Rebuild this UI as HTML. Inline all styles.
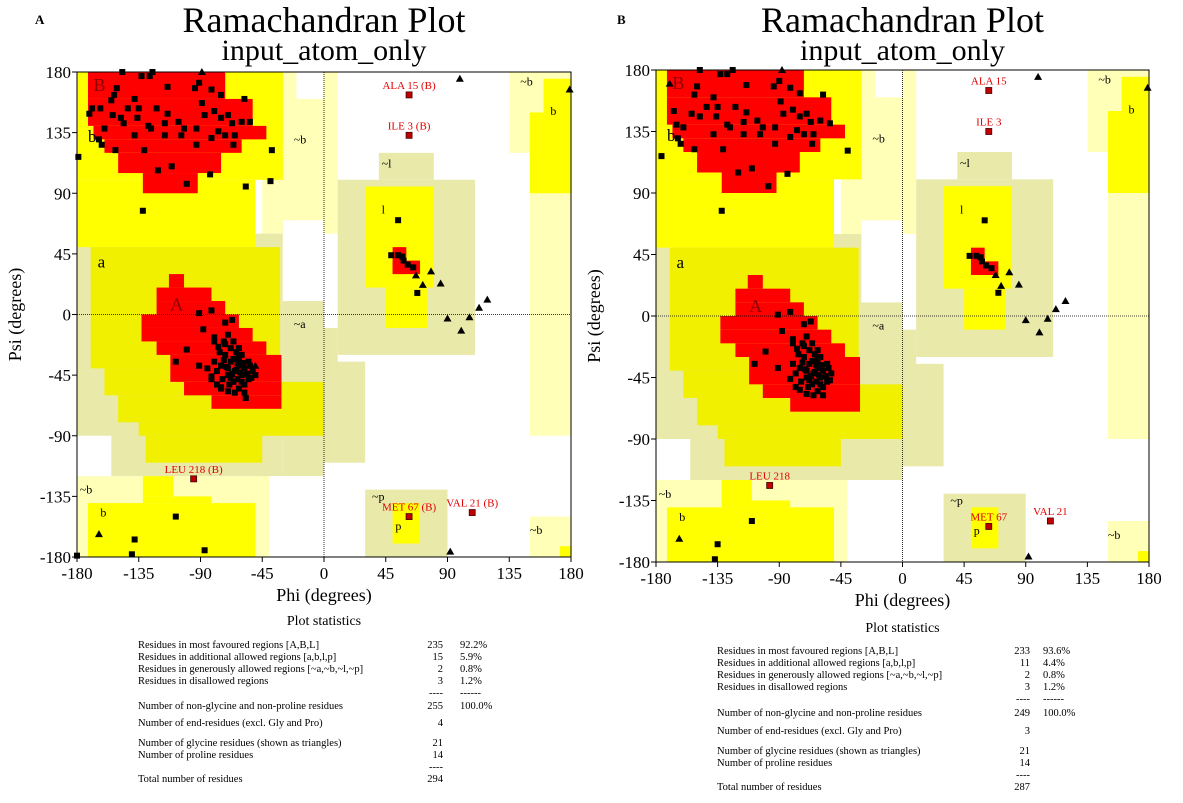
<!DOCTYPE html>
<html><head><meta charset="utf-8">
<style>
html,body{margin:0;padding:0;background:#fff;}
body{width:1183px;height:803px;overflow:hidden;position:relative;font-family:"Liberation Serif",serif;}
svg{position:absolute;left:0;top:0;}
</style></head>
<body>
<svg id="chart" width="1183" height="803" viewBox="0 0 1183 803"></svg>
<script>
// ---- data ----
const ticks = [-180,-135,-90,-45,0,45,90,135,180];
// regions [phi1,phi2,psi1,psi2]
const regionsPale = [[-180,-10,100,180],[-45,10,60,180],[-180,-40,-180,-120],[-45,-40,-180,-120],[135,180,120,180],[150,180,-90,120],[150,180,-180,-150]];
const regionsKhaki = [[-180,-30,-120,60],[-30,0,-120,10],[0,30,-110,-35],[0,10,-60,-10],[10,110,-30,100],[40,80,100,120],[20,110,-30,-30],[30,90,-180,-130],[-30,-20,50,70]];
const regionsWhite = [[-180,-155,-120,-90],[-30,0,10,70],[-40,0,-180,-120],[-20,0,160,180],[120,135,120,180]];
const regionsYellow = [[-180,-30,100,180],[-180,-50,50,100],[-132,-110,-135,-120],[-132,-82,-140,-135],[-172,-50,-180,-140],[30,80,20,95],[45,75,-10,20],[160,180,90,175],[150,160,90,150],[50,70,-170,-140],[172,180,-180,-172]];
const regionsAlpha = [[-170,-32,-40,50],[-160,-32,-60,-40],[-150,-10,-80,-60],[-135,0,-90,-80],[-130,-45,-110,-90],[-32,0,-80,-50]];
const regionsRed = [[-172,-72,160,180],[-172,-52,140,160],[-168,-42,130,140],[-160,-60,120,130],[-150,-75,105,120],[-132,-92,90,105],
 [-113,-102,20,30],[-122,-82,10,20],[-122,-72,0,10],[-133,-62,-10,0],[-133,-52,-20,-10],[-122,-42,-30,-20],[-112,-31,-50,-30],[-102,-31,-60,-50],[-82,-31,-70,-60],
 [50,60,30,50],[50,70,30,40]];
const regionLabels = [["B",-168,166,18,"#800"],["A",-112,3,18,"#800"],["b",-172,128,17,"#000"],["a",-165,35,17,"#000"],["~b",-22,127,12,"#000"],["~a",-22,-10,12,"#000"],["~l",42,109,12,"#000"],["l",42,75,12,"#000"],["~b",143,170,12,"#000"],["b",165,148,12,"#000"],["~b",-178,-133,12,"#000"],["b",-163,-150,12,"#000"],["~p",35,-138,12,"#000"],["p",52,-160,12,"#000"],["~b",150,-163,12,"#000"]];

const squaresA = [[-147,180],[-125,180],[-133,177],[-127,177],[-151,168],[-153,163],[-163,153],[-155,159],[-148,146],[-146,142],[-136,146],[-128,140],[-138,133],[-131,122],[-121,107],[-111,110],[-100,97],[-83,104],[-114,169],[-94,168],[-91,172],[-82,167],[-75,163],[-89,157],[-80,151],[-75,146],[-70,148],[-67,142],[-60,143],[-54,143],[-65,133],[-66,126],[-72,133],[-82,131],[-93,126],[-93,138],[-102,138],[-104,133],[-116,133],[-122,153],[-116,142],[-126,138],[-162,126],[-152,122],[-154,148],[-160,138],[-143,153],[-138,160],[-135,153],[-114,149],[-106,143],[-87,148],[-77,136],[-169,153],[-171,149],[-164,130],[-38,122],[-39,99],[-57,95],[-58,160],[-132,77],[-179,117],
 [-91,1],[-82,3],[-67,-4],[-72,-6],[-88,-11],[-100,-26],[-108,-35],[-91,-38],[-80,-17],[-73,-20],[-53,-47],[-82,-46],[-78,-52],[-75,-54],
 [-70,-40],[-65,-42],[-62,-38],[-60,-45],[-68,-35],[-72,-30],[-58,-40],[-63,-48],[-66,-50],[-70,-45],[-75,-38],[-55,-35],[-60,-30],[-64,-28],[-68,-25],[-72,-22],[-62,-55],[-58,-52],[-55,-48],[-52,-42],[-74,-48],[-78,-42],[-80,-35],[-76,-28],[-66,-33],[-61,-43],[-69,-52],[-65,-58],[-70,-57],[-58,-58],[-63,-36],[-67,-44],[-59,-36],[-71,-39],[-64,-41],[-56,-44],[-73,-34],[-62,-32],[-68,-47],[-60,-50],[-77,-24],[-80,-20],[-70,-15],[-66,-20],[-62,-25],[-54,-38],[-50,-45],[-57,-62],[-75,-55],[-82,-48],[-85,-40],
 [54,70],[68,16],[49,44],[54,44],[57,43],[58,40],[61,37],[65,35],
 [-180,-179],[-140,-178],[-138,-167],[-108,-150],[-87,-175]];
const trianglesA = [[99,175],[179,167],[67,29],[78,32],[72,22],[85,23],[119,11],[113,5],[90,-3],[106,-2],[100,-12],[-164,-163],[92,-176],[-50,-38],[-89,180]];
const labelledA = [["ALA 15 (B)",62,163],["ILE 3 (B)",62,133],["LEU 218 (B)",-95,-122],["MET 67 (B)",62,-150],["VAL 21 (B)",108,-147]];

const squaresB = [[-148,180],[-124,180],[-133,177],[-128,177],[-150,168],[-152,162],[-148,146],[-136,146],[-128,140],[-138,133],[-131,122],[-120,105],[-110,108],[-98,95],[-84,104],[-114,169],[-94,168],[-90,172],[-82,167],[-75,163],[-89,157],[-80,151],[-75,146],[-70,148],[-67,142],[-60,143],[-53,141],[-65,133],[-66,126],[-72,133],[-82,131],[-93,126],[-93,138],[-102,138],[-104,133],[-116,133],[-122,153],[-116,142],[-126,138],[-162,126],[-152,122],[-154,148],[-160,138],[-143,153],[-138,160],[-135,153],[-114,149],[-106,143],[-87,148],[-77,136],[-165,140],[-167,150],[-164,130],[-40,121],[-58,162],[-132,77],[-176,117],
 [-91,1],[-82,3],[-67,-4],[-72,-6],[-88,-11],[-100,-26],[-108,-35],[-91,-38],[-80,-17],[-73,-20],[-53,-47],[-82,-46],[-78,-52],[-75,-54],
 [-70,-40],[-65,-42],[-62,-38],[-60,-45],[-68,-35],[-72,-30],[-58,-40],[-63,-48],[-66,-50],[-70,-45],[-75,-38],[-55,-35],[-60,-30],[-64,-28],[-68,-25],[-72,-22],[-62,-55],[-58,-52],[-55,-48],[-52,-42],[-74,-48],[-78,-42],[-80,-35],[-76,-28],[-66,-33],[-61,-43],[-69,-52],[-65,-58],[-70,-57],[-58,-58],[-63,-36],[-67,-44],[-59,-36],[-71,-39],[-64,-41],[-56,-44],[-73,-34],[-62,-32],[-68,-47],[-60,-50],[-77,-24],[-80,-20],[-70,-15],[-66,-20],[-62,-25],[-54,-38],
 [60,70],[70,17],[49,44],[54,44],[57,43],[58,40],[61,37],[65,35],
 [-135,-167],[-110,-150],[-137,-178]];
const trianglesB = [[99,175],[179,167],[68,30],[78,32],[72,22],[85,23],[119,11],[112,5],[90,-3],[106,-2],[100,-12],[-163,-163],[92,-176],[-88,180],[-170,170]];
const labelledB = [["ALA 15",63,165],["ILE 3",63,135],["LEU 218",-97,-124],["MET 67",63,-154],["VAL 21",108,-150]];

const statLabels = ["Residues in most favoured regions  [A,B,L]","Residues in additional allowed regions  [a,b,l,p]","Residues in generously allowed regions  [~a,~b,~l,~p]","Residues in disallowed regions","Number of non-glycine and non-proline residues","Number of end-residues (excl. Gly and Pro)","Number of glycine residues (shown as triangles)","Number of proline residues","Total number of residues"];
const statCountsA = ["235","15","2","3","255","4","21","14","294"];
const statPctA = ["92.2%","5.9%","0.8%","1.2%","100.0%","","","",""];
const statCountsB = ["233","11","2","3","249","3","21","14","287"];
const statPctB = ["93.6%","4.4%","0.8%","1.2%","100.0%","","","",""];

// ---- drawing ----
const NS="http://www.w3.org/2000/svg";
const svg=document.getElementById('chart');
function mk(tag,attrs,parent){const e=document.createElementNS(NS,tag);for(const k in attrs)e.setAttribute(k,attrs[k]);(parent||svg).appendChild(e);return e;}

function drawPlot(id,f,squares,tris,labelled,counts,pcts){
  const g=mk('g',{});
  
  
  const sx=p=>f.x0+(p+180)/360*(f.x1-f.x0);
  const sy=q=>f.y0+(180-q)/360*(f.y1-f.y0);
  const cx=(f.x0+f.x1)/2;
  const panel=mk('text',{x:f.px,y:24,'font-size':13,'font-weight':'bold'},g);panel.textContent=id;
   
  const t1=mk('text',{x:cx,y:f.ty,'font-size':36,'text-anchor':'middle'},g);t1.textContent="Ramachandran Plot";
   
  const t2=mk('text',{x:cx,y:f.ty+28,'font-size':30,'text-anchor':'middle'},g);t2.textContent="input_atom_only";
   
  const rg=mk('g',{},g);
   
  function layer(list,color){list.forEach(r=>{const e=mk('rect',{x:sx(r[0]),y:sy(r[3]),width:sx(r[1])-sx(r[0]),height:sy(r[2])-sy(r[3]),fill:color},rg);
     });}
  layer(regionsPale,'#ffffb8');layer(regionsKhaki,'#e9e9aa');layer(regionsWhite,'#ffffff');
  layer(regionsYellow,'#ffff00');layer(regionsAlpha,'#f0f000');layer(regionsRed,'#ff0000');
  regionLabels.forEach(l=>{const e=mk('text',{x:sx(l[1]),y:sy(l[2]),'font-size':l[3],fill:l[4]},g);e.textContent=l[0];
     });
  const vz=mk('line',{x1:sx(0),x2:sx(0),y1:f.y0,y2:f.y1,stroke:'#000','stroke-width':0.8,'stroke-dasharray':'1,1'},g);
   
  const hz=mk('line',{x1:f.x0,x2:f.x1,y1:sy(0),y2:sy(0),stroke:'#000','stroke-width':0.8,'stroke-dasharray':'1,1'},g);
   
  const fr=mk('rect',{x:f.x0,y:f.y0,width:f.x1-f.x0,height:f.y1-f.y0,fill:'none',stroke:'#000','stroke-width':1},g);
   
  ticks.forEach(t=>{
    const a=mk('line',{x1:sx(t),x2:sx(t),y1:f.y1,y2:f.y1+5,stroke:'#000'},g);
     
    const b=mk('text',{x:sx(t),y:f.y1+22,'font-size':17,'text-anchor':'middle'},g);b.textContent=t;
     
    const c=mk('line',{x1:f.x0-5,x2:f.x0,y1:sy(t),y2:sy(t),stroke:'#000'},g);
     
    const d=mk('text',{x:f.x0-6,y:sy(t)+6,'font-size':17,'text-anchor':'end'},g);d.textContent=t;
     
  });
  const xt=mk('text',{x:sx(0),y:f.y1+44,'font-size':18,'text-anchor':'middle'},g);xt.textContent="Phi (degrees)";
   
  const yt=mk('text',{x:0,y:0,'font-size':18,'text-anchor':'middle',transform:`translate(${f.x0-56},${sy(0)}) rotate(-90)`},g);yt.textContent="Psi (degrees)";
   
  squares.forEach(p=>{const e=mk('rect',{x:sx(p[0])-3,y:sy(p[1])-3,width:6,height:6,fill:'#000'},g);
     });
  tris.forEach(p=>{const x=sx(p[0]),y=sy(p[1]);const e=mk('polygon',{points:`${x},${y-4} ${x-4},${y+3} ${x+4},${y+3}`,fill:'#000'},g);
     });
  labelled.forEach(p=>{const x=sx(p[1]),y=sy(p[2]);
    const e=mk('rect',{x:x-3,y:y-3,width:6,height:6,fill:'#c00000',stroke:'#400','stroke-width':0.8},g);
     
    const t=mk('text',{x:x,y:y-6,'font-size':11,fill:'#e00000','text-anchor':'middle'},g);t.textContent=p[0];
     });
  const st=mk('text',{x:sx(0),y:f.sy,'font-size':14,'text-anchor':'middle'},g);st.textContent="Plot statistics";
   
  const ys=f.rows;
  statLabels.forEach((l,i)=>{
    const a=mk('text',{x:f.lx,y:ys[i],'font-size':10.5},g);a.textContent=l;
     
    const b=mk('text',{x:f.cx,y:ys[i],'font-size':10.5,'text-anchor':'end'},g);b.textContent=counts[i];
     
    if(pcts[i]){const c=mk('text',{x:f.pxx,y:ys[i],'font-size':10.5},g);c.textContent=pcts[i];
     }
  });
  [[f.rows[3]+12,true],[f.rows[7]+12,false]].forEach(d=>{
    const a=mk('text',{x:f.cx,y:d[0],'font-size':10.5,'text-anchor':'end'},g);a.textContent="----";
     
    if(d[1]){const b=mk('text',{x:f.pxx,y:d[0],'font-size':10.5},g);b.textContent="------";
     }
  });
}
drawPlot('A',{x0:77,x1:571,y0:72,y1:557,px:35,ty:32,sy:625,lx:138,cx:443,pxx:460,rows:[648,660,672,684,709,726,746,758,782]},squaresA,trianglesA,labelledA,statCountsA,statPctA);
drawPlot('B',{x0:656,x1:1149,y0:70,y1:562,px:617,ty:32,sy:632,lx:717,cx:1030,pxx:1043,rows:[654,666,678,690,716,734,754,766,790]},squaresB,trianglesB,labelledB,statCountsB,statPctB);
</script>
</body></html>
